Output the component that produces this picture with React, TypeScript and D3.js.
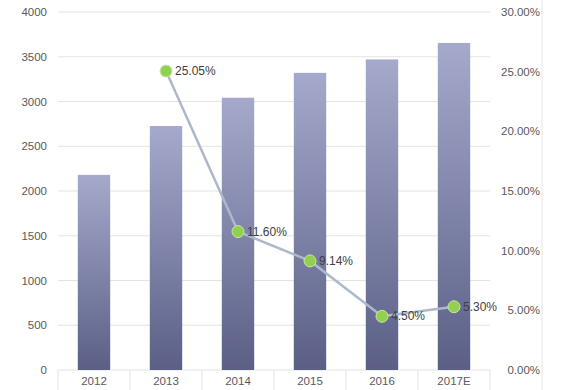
import React from 'react';
import * as d3 from 'd3';

const categories = ['2012', '2013', '2014', '2015', '2016', '2017E'];
const output = [2180, 2726, 3042, 3320, 3470, 3654];
const growthYears = ['2013', '2014', '2015', '2016', '2017E'];
const growth = [25.05, 11.6, 9.14, 4.5, 5.3];
const leftTicks = [0, 500, 1000, 1500, 2000, 2500, 3000, 3500, 4000];
const rightTicks = [0, 5, 10, 15, 20, 25, 30];

const W = 566;
const H = 390;
const margin = { top: 12, right: 76, bottom: 20, left: 58 };
const font = '"Liberation Sans", "DejaVu Sans", sans-serif';

export default function App() {
  const innerW = W - margin.left - margin.right;
  const innerH = H - margin.top - margin.bottom;

  const x = d3.scaleBand().domain(categories).range([0, innerW]).paddingInner(0.55).paddingOuter(0.275);
  const xc = (c: string) => (x(c) as number) + x.bandwidth() / 2;
  const yL = d3.scaleLinear().domain([0, 4000]).range([innerH, 0]);
  const yR = d3.scaleLinear().domain([0, 30]).range([innerH, 0]);

  const step = x.step();
  const bandStart = (i: number) => (x(categories[i]) as number) - (step - x.bandwidth()) / 2;

  const line = d3
    .line<number>()
    .x((_, i) => xc(growthYears[i]))
    .y((d) => yR(d));

  return (
    <div style={{ position: 'fixed', left: 0, top: 0 }}>
      <svg width={W} height={H} style={{ display: 'block', background: '#fff', fontFamily: font }}>
        <defs>
          <linearGradient id="barGrad" x1="0" y1="0" x2="0" y2="1">
            <stop offset="0%" stopColor="#A5AACC" />
            <stop offset="100%" stopColor="#5B5F86" />
          </linearGradient>
        </defs>
        <line x1={542} x2={542} y1={0} y2={H} stroke="#E6E6E6" />
        <g transform={`translate(${margin.left},${margin.top})`}>
          {leftTicks.map((t) => (
            <line key={'g' + t} x1={0} x2={innerW} y1={yL(t)} y2={yL(t)} stroke="#E3E3E3" strokeWidth={1} />
          ))}
          {categories.map((c, i) => (
            <line key={'s' + c} x1={bandStart(i)} x2={bandStart(i)} y1={innerH} y2={innerH + 20} stroke="#E3E3E3" />
          ))}
          <line x1={innerW} x2={innerW} y1={innerH} y2={innerH + 20} stroke="#E3E3E3" />
          {categories.map((c, i) => (
            <rect
              key={'b' + c}
              x={x(c)}
              y={yL(output[i])}
              width={x.bandwidth()}
              height={innerH - yL(output[i])}
              fill="url(#barGrad)"
            />
          ))}
          <path d={line(growth) || ''} fill="none" stroke="#ABB9CC" strokeWidth={2.5} />
          {growth.map((g, i) => (
            <g key={'p' + i}>
              <circle cx={xc(growthYears[i])} cy={yR(g)} r={6} fill="#92D050" stroke="#C8E6A6" strokeWidth={1} />
              <text x={xc(growthYears[i]) + 9} y={yR(g) + 4} fontSize={12} fill="#404040">
                {g.toFixed(2) + '%'}
              </text>
            </g>
          ))}
          {leftTicks.map((t) => (
            <text key={'l' + t} x={-11} y={yL(t) + 4} textAnchor="end" fontSize={11.5} fill="#595959">
              {t}
            </text>
          ))}
          {rightTicks.map((t) => (
            <text key={'r' + t} x={482} y={yR(t) + 4} textAnchor="end" fontSize={11.5} fill="#595959">
              {t.toFixed(2) + '%'}
            </text>
          ))}
          {categories.map((c) => (
            <text key={'c' + c} x={xc(c)} y={innerH + 15} textAnchor="middle" fontSize={11.5} fill="#595959">
              {c}
            </text>
          ))}
        </g>
      </svg>
    </div>
  );
}
